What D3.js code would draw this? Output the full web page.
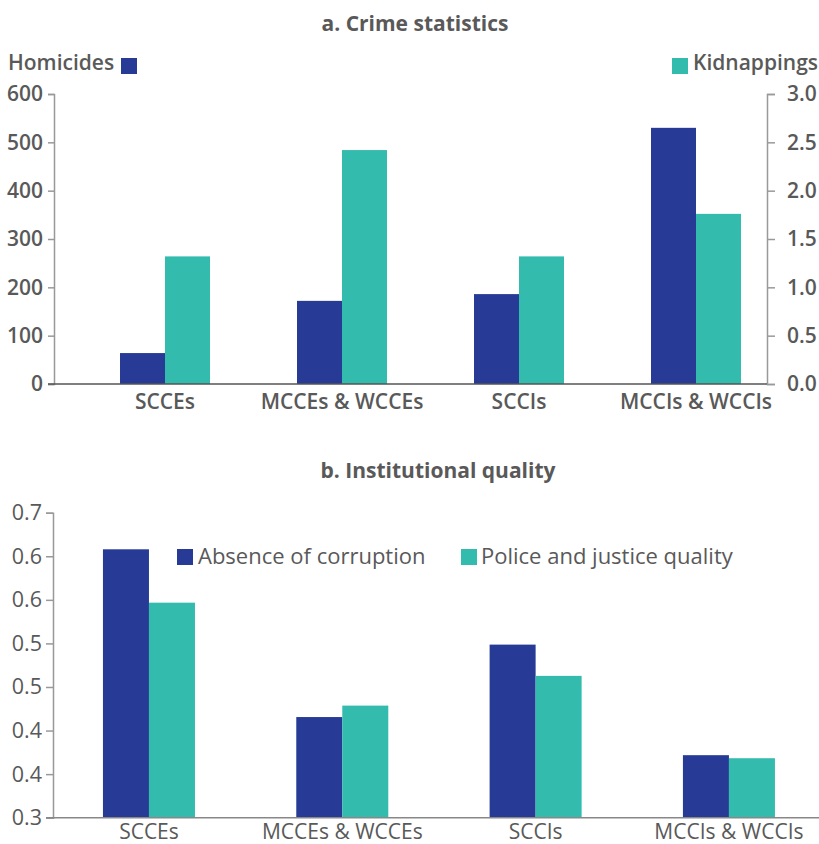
<!DOCTYPE html>
<html>
<head>
<meta charset="utf-8">
<script src="https://cdn.jsdelivr.net/npm/d3@7"></script>
<style>
  html, body { margin: 0; padding: 0; background: #fff; }
  svg { display: block; font-family: "Open Sans", "Noto Sans", sans-serif; }
</style>
</head>
<body>
<svg id="chart" width="819" height="844"></svg>
<script>
// ---- Data ----
const categories = ["SCCEs", "MCCEs & WCCEs", "SCCIs", "MCCIs & WCCIs"];

// Panel a: crime statistics
const homicides   = [64, 172, 186, 530];
const kidnappings = [1.32, 2.42, 1.32, 1.76];
const leftTicksA  = [0, 100, 200, 300, 400, 500, 600];
const rightTicksA = ["0.0", "0.5", "1.0", "1.5", "2.0", "2.5", "3.0"];

// Panel b: institutional quality
const absenceCorruption = [0.652, 0.432, 0.527, 0.382];
const policeJustice     = [0.582, 0.447, 0.486, 0.378];
const tickLabelsB = ["0.3", "0.4", "0.4", "0.5", "0.5", "0.6", "0.6", "0.7"];

const seriesA = ["Homicides", "Kidnappings"];
const seriesB = ["Absence of corruption", "Police and justice quality"];

const BLUE = "#263a96";
const TEAL = "#33bbad";
const TEXT = "#595959";

const svg = d3.select("#chart");

// ================= Panel a =================
{
  const g = svg.append("g");
  const yL = d3.scaleLinear().domain([0, 600]).range([384, 94]);
  const yR = d3.scaleLinear().domain([0, 3]).range([384, 94]);
  const x0 = d3.scaleBand().domain(categories).range([76.5, 784.5])
    .paddingInner(1 - 90 / 177).paddingOuter((1 - 90 / 177) / 2);
  const x1 = d3.scaleBand().domain(seriesA).range([0, x0.bandwidth()]);

  g.append("text").attr("x", 415).attr("y", 31).attr("text-anchor", "middle")
    .attr("font-size", 21).attr("font-weight", 700).attr("fill", TEXT)
    .text("a. Crime statistics");

  categories.forEach((c, i) => {
    g.append("rect").attr("x", x0(c) + x1("Homicides")).attr("width", x1.bandwidth())
      .attr("y", yL(homicides[i])).attr("height", yL(0) - yL(homicides[i])).attr("fill", BLUE);
    g.append("rect").attr("x", x0(c) + x1("Kidnappings")).attr("width", x1.bandwidth())
      .attr("y", yR(kidnappings[i])).attr("height", yR(0) - yR(kidnappings[i])).attr("fill", TEAL);
  });

  const axL = g.append("g").attr("transform", "translate(54,0)")
    .call(d3.axisLeft(yL).tickValues(leftTicksA).tickFormat(d3.format("d")).tickSize(6).tickPadding(4));
  axL.select(".domain").attr("stroke", "#999").attr("stroke-width", 1.5);
  axL.selectAll(".tick line").attr("stroke", "#999").attr("stroke-width", 1.5);
  axL.selectAll(".tick text").attr("font-size", 21).attr("font-weight", 600).attr("fill", TEXT)
    .attr("font-family", "Open Sans").attr("dx", -1);

  const axR = g.append("g").attr("transform", "translate(767,0)")
    .call(d3.axisRight(yR).tickValues(rightTicksA.map(Number)).tickFormat((d, i) => rightTicksA[i]).tickSize(8).tickPadding(12));
  axR.select(".domain").attr("stroke", "#999").attr("stroke-width", 1.5);
  axR.selectAll(".tick line").attr("stroke", "#999").attr("stroke-width", 1.5);
  axR.selectAll(".tick text").attr("font-size", 21).attr("font-weight", 600).attr("fill", TEXT)
    .attr("font-family", "Open Sans");

  g.append("line").attr("x1", 48).attr("x2", 767).attr("y1", yL(0)).attr("y2", yL(0))
    .attr("stroke", "#555").attr("stroke-width", 1.5);

  const axB = g.append("g").attr("transform", `translate(0,${yL(0)})`)
    .call(d3.axisBottom(x0).tickSize(0).tickPadding(10));
  axB.select(".domain").remove();
  axB.selectAll(".tick text").attr("font-size", 21).attr("font-weight", 600).attr("fill", TEXT)
    .attr("font-family", "Open Sans");

  g.append("text").attr("x", 8).attr("y", 70).attr("font-size", 21).attr("font-weight", 600)
    .attr("fill", TEXT).text(seriesA[0]);
  g.append("rect").attr("x", 121).attr("y", 58).attr("width", 16).attr("height", 16).attr("fill", BLUE);
  g.append("rect").attr("x", 672).attr("y", 58).attr("width", 16).attr("height", 16).attr("fill", TEAL);
  g.append("text").attr("x", 693).attr("y", 70).attr("font-size", 21).attr("font-weight", 600)
    .attr("fill", TEXT).text(seriesA[1]);
}

// ================= Panel b =================
{
  const g = svg.append("g");
  const y = d3.scaleLinear().domain([0.3, 0.7]).range([817.7, 512.7]);
  const tickVals = tickLabelsB.map((_, i) => 0.3 + i * (0.4 / (tickLabelsB.length - 1)));
  const x0 = d3.scaleBand().domain(categories).range([52.3, 825.6])
    .paddingInner(1 - 92 / 193.3).paddingOuter((1 - 92 / 193.3) / 2);
  const x1 = d3.scaleBand().domain(seriesB).range([0, x0.bandwidth()]);

  g.append("text").attr("x", 438).attr("y", 478).attr("text-anchor", "middle")
    .attr("font-size", 21).attr("font-weight", 700).attr("fill", TEXT)
    .text("b. Institutional quality");

  categories.forEach((c, i) => {
    g.append("rect").attr("x", x0(c) + x1(seriesB[0])).attr("width", x1.bandwidth())
      .attr("y", y(absenceCorruption[i])).attr("height", y(0.3) - y(absenceCorruption[i])).attr("fill", BLUE);
    g.append("rect").attr("x", x0(c) + x1(seriesB[1])).attr("width", x1.bandwidth())
      .attr("y", y(policeJustice[i])).attr("height", y(0.3) - y(policeJustice[i])).attr("fill", TEAL);
  });

  const axL = g.append("g").attr("transform", "translate(53,0)")
    .call(d3.axisLeft(y).tickValues(tickVals).tickFormat((d, i) => tickLabelsB[i]).tickSize(7).tickPadding(4));
  axL.select(".domain").attr("stroke", "#999").attr("stroke-width", 1.5);
  axL.selectAll(".tick line").attr("stroke", "#999").attr("stroke-width", 1.5);
  axL.selectAll(".tick text").attr("font-size", 21.5).attr("font-weight", 400).attr("fill", TEXT)
    .attr("font-family", "Open Sans");

  g.append("line").attr("x1", 46).attr("x2", 819).attr("y1", y(0.3)).attr("y2", y(0.3))
    .attr("stroke", "#888").attr("stroke-width", 1.5);

  const axB = g.append("g").attr("transform", `translate(0,${y(0.3)})`)
    .call(d3.axisBottom(x0).tickSize(0).tickPadding(6));
  axB.select(".domain").remove();
  axB.selectAll(".tick text").attr("font-size", 21).attr("font-weight", 400).attr("fill", TEXT)
    .attr("font-family", "Open Sans");

  g.append("rect").attr("x", 177).attr("y", 549).attr("width", 16).attr("height", 16).attr("fill", BLUE);
  g.append("text").attr("x", 198).attr("y", 564).attr("font-size", 22).attr("fill", TEXT).text(seriesB[0]);
  g.append("rect").attr("x", 461).attr("y", 549).attr("width", 16).attr("height", 16).attr("fill", TEAL);
  g.append("text").attr("x", 481).attr("y", 564).attr("font-size", 22).attr("fill", TEXT).text(seriesB[1]);
}
</script>
</body>
</html>
